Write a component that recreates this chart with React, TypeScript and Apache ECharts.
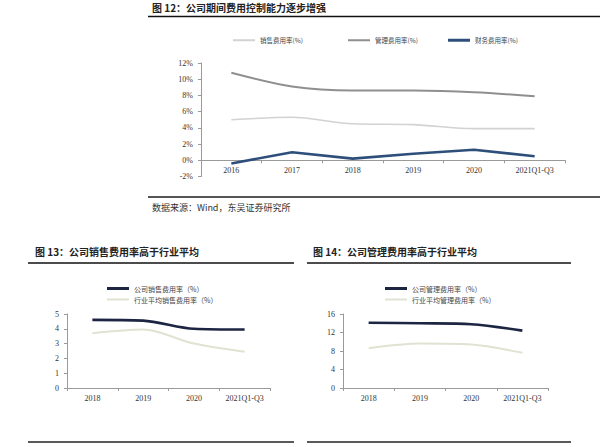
import React, { useEffect, useRef } from "react";
import * as echarts from "echarts";

const topYears = ["2016", "2017", "2018", "2019", "2020", "2021Q1-Q3"];
const salesRate = [5.0, 5.3, 4.5, 4.4, 3.9, 3.9];
const mgmtRate = [10.8, 9.1, 8.6, 8.6, 8.4, 7.9];
const finRate = [-0.4, 1.0, 0.2, 0.8, 1.3, 0.5];

const botYears = ["2018", "2019", "2020", "2021Q1-Q3"];
const coSales = [4.6, 4.55, 4.0, 3.95];
const indSales = [3.7, 3.95, 3.0, 2.45];
const coMgmt = [14.1, 14.0, 13.8, 12.4];
const indMgmt = [8.6, 9.6, 9.4, 7.6];

const FONT = '"Liberation Serif", "Noto Sans CJK SC", serif';
const CJK = '"Noto Sans CJK SC", "Liberation Serif", sans-serif';

const C_SALES = "#d2d2d2";
const C_MGMT = "#8f8f8f";
const C_FIN = "#2e4f7a";
const C_CO = "#1c2541";
const C_IND = "#e0e2d2";

export default function App() {
  const ref = useRef<HTMLDivElement>(null);
  useEffect(() => {
    const chart = echarts.init(ref.current!, null, { renderer: "svg" });
    const axisLabel = { fontFamily: FONT, fontSize: 8, color: "#333" };
    const lineStyle = { color: "#9a9a9a", width: 1 };
    const mkLegend = (name: string, left: number, top: number, color: string, h: number, fs: number) => ({
      left,
      top,
      itemWidth: 22,
      itemHeight: h,
      itemGap: 4,
      icon: "rect",
      data: [{ name, itemStyle: { color } }],
      textStyle: { fontFamily: CJK, fontSize: fs, color: "#444" },
      padding: 0,
    });
    const title = (text: string, x: number, y: number) => ({
      type: "text",
      left: x,
      top: y,
      style: { text, fontFamily: CJK, fontSize: 10, fontWeight: "bold", fill: "#222" },
    });
    const hline = (x1: number, x2: number, y: number, w: number, c: string) => ({
      type: "line",
      shape: { x1, y1: y, x2, y2: y },
      style: { stroke: c, lineWidth: w },
    });
    const xAx = (gridIndex: number, data: string[], offset: number) => ({
      type: "category",
      gridIndex,
      data,
      boundaryGap: true,
      position: "bottom",
      offset,
      axisLine: { show: true, onZero: false, lineStyle },
      axisTick: { show: true, length: 3, lineStyle },
      axisLabel: { ...axisLabel, margin: 6, interval: 0 },
    });
    const yAx = (gridIndex: number, min: number, max: number, interval: number, fmt?: string) => ({
      type: "value",
      gridIndex,
      min,
      max,
      interval,
      axisLine: { show: true, onZero: false, lineStyle },
      axisTick: { show: true, length: 3, lineStyle },
      splitLine: { show: false },
      axisLabel: { ...axisLabel, margin: 8, formatter: fmt || "{value}" },
    });

    const topH = 113.5;
    const zeroOffset = -(topH * 2) / 14;

    chart.setOption({
      animation: false,
      backgroundColor: "#fff",
      grid: [
        { left: 201, right: 35, top: 63, bottom: 447 - 63 - topH },
        { left: 67, right: 330, top: 314, bottom: 59 },
        { left: 343, right: 52, top: 314, bottom: 59 },
      ],
      legend: [
        mkLegend("销售费用率(%)", 233, 37, C_SALES, 2, 6.5),
        mkLegend("管理费用率(%)", 348, 37, C_MGMT, 2, 6.5),
        mkLegend("财务费用率(%)", 448, 37, C_FIN, 3, 6.5),
        mkLegend("公司销售费用率（%）", 107, 285, C_CO, 3, 7),
        mkLegend("行业平均销售费用率（%）", 107, 296, C_IND, 2, 7),
        mkLegend("公司管理费用率（%）", 385, 285, C_CO, 3, 7),
        mkLegend("行业平均管理费用率（%）", 385, 296, C_IND, 2, 7),
      ],
      xAxis: [xAx(0, topYears, zeroOffset), xAx(1, botYears, 0), xAx(2, botYears, 0)],
      yAxis: [yAx(0, -2, 12, 2, "{value}%"), yAx(1, 0, 5, 1), yAx(2, 0, 16, 4)],
      series: [
        { name: "销售费用率(%)", type: "line", xAxisIndex: 0, yAxisIndex: 0, data: salesRate, smooth: 0.3, symbol: "none", lineStyle: { color: C_SALES, width: 1.6 }, itemStyle: { color: C_SALES } },
        { name: "管理费用率(%)", type: "line", xAxisIndex: 0, yAxisIndex: 0, data: mgmtRate, smooth: 0.3, symbol: "none", lineStyle: { color: C_MGMT, width: 2 }, itemStyle: { color: C_MGMT } },
        { name: "财务费用率(%)", type: "line", xAxisIndex: 0, yAxisIndex: 0, data: finRate, symbol: "none", lineStyle: { color: C_FIN, width: 2.6 }, itemStyle: { color: C_FIN } },
        { name: "公司销售费用率（%）", type: "line", xAxisIndex: 1, yAxisIndex: 1, data: coSales, smooth: 0.3, symbol: "none", lineStyle: { color: C_CO, width: 2.6 }, itemStyle: { color: C_CO } },
        { name: "行业平均销售费用率（%）", type: "line", xAxisIndex: 1, yAxisIndex: 1, data: indSales, smooth: 0.3, symbol: "none", lineStyle: { color: C_IND, width: 2 }, itemStyle: { color: C_IND } },
        { name: "公司管理费用率（%）", type: "line", xAxisIndex: 2, yAxisIndex: 2, data: coMgmt, smooth: 0.3, symbol: "none", lineStyle: { color: C_CO, width: 2.6 }, itemStyle: { color: C_CO } },
        { name: "行业平均管理费用率（%）", type: "line", xAxisIndex: 2, yAxisIndex: 2, data: indMgmt, smooth: 0.3, symbol: "none", lineStyle: { color: C_IND, width: 2 }, itemStyle: { color: C_IND } },
      ],
      graphic: [
        title("图 12：公司期间费用控制能力逐步增强", 152, 2),
        hline(148, 600, 16.5, 1.5, "#111"),
        hline(148, 600, 197, 2, "#555"),
        {
          type: "text",
          left: 152,
          top: 203,
          style: { text: "数据来源：Wind，东吴证券研究所", fontFamily: CJK, fontSize: 9, fill: "#333" },
        },
        title("图 13：公司销售费用率高于行业平均", 35, 246),
        hline(28, 294, 263, 1.5, "#111"),
        hline(28, 294, 442, 1.5, "#222"),
        title("图 14：公司管理费用率高于行业平均", 313, 246),
        hline(307, 571, 263, 1.5, "#111"),
        hline(307, 571, 442, 1.5, "#222"),
      ],
    });
    return () => chart.dispose();
  }, []);
  return <div ref={ref} style={{ position: "absolute", left: 0, top: 0, width: 600, height: 447 }} />;
}
